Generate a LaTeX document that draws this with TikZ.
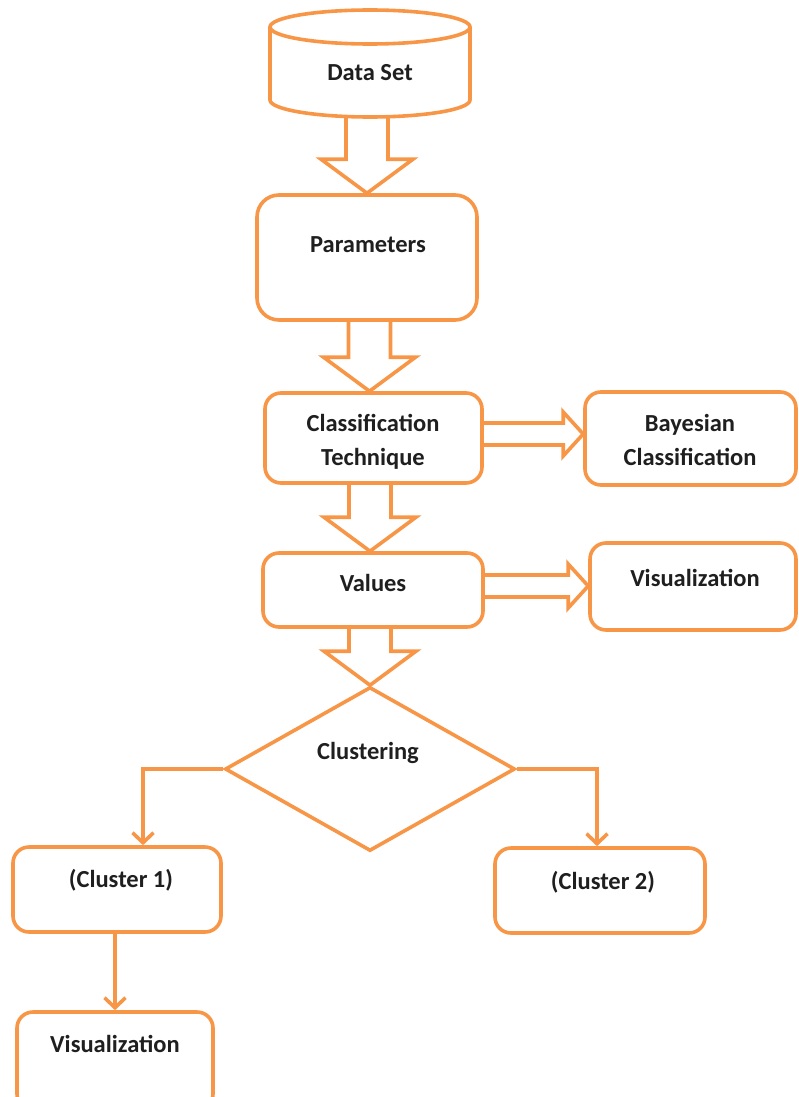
\documentclass[tikz,border=0pt]{standalone}
\usepackage{fontspec}
\setmainfont{Carlito}
\usetikzlibrary{calc,arrows.meta,shapes.geometric}
\definecolor{accent}{HTML}{F79646}

% hollow block arrow pointing down: shaft from #1 to the tip at #2
\newcommand\hollowdown[2]{%
  \draw[hollow] let \p1=(#1), \p2=(#2) in
    (\x2-21pt,\y1) -- (\x2-21pt,\y2+34pt) -- (\x2-46pt,\y2+34pt) -- (\x2,\y2)
    -- (\x2+46pt,\y2+34pt) -- (\x2+21pt,\y2+34pt) -- (\x2+21pt,\y1);}
% hollow block arrow pointing right: shaft from #1 to the tip at #2
\newcommand\hollowright[2]{%
  \draw[hollow] let \p1=(#1), \p2=(#2) in
    (\x1,\y1+15pt) -- (\x2-20pt,\y1+15pt) -- (\x2-20pt,\y1+26pt) -- (\x2,\y1+4pt)
    -- (\x2-20pt,\y1-18pt) -- (\x2-20pt,\y1-7pt) -- (\x1,\y1-7pt);}

\begin{document}
\begin{tikzpicture}[x=1pt,y=1pt,
  box/.style={draw=accent, line width=3.6pt, rounded corners=16pt, fill=white, inner sep=0pt},
  lbl/.style={font=\fontsize{24.5}{34}\selectfont\bfseries, align=center, text=black!88, inner sep=0pt},
  hollow/.style={draw=accent, line width=3.6pt, line join=miter},
  link/.style={draw=accent, line width=3.6pt,
    -{Straight Barb[length=10pt,width=21pt,line width=3.6pt]}}]
\useasboundingbox (0,0) rectangle (798,-1097);
\clip (0,0) rectangle (798,-1097);

% database cylinder
\draw[hollow] (270,-27) -- (270,-100)
  arc[start angle=180,end angle=360,x radius=100,y radius=17] -- (470,-27);
\draw[hollow] (370,-27) ellipse[x radius=100,y radius=17];
\coordinate (dsb) at (370,-117);
\node[lbl] (ds) at (370,-73) {Data Set};

% process boxes
\node[box, rounded corners=22pt, minimum width=220, minimum height=125] (par) at (367,-257.5) {};
\node[box, minimum width=217, minimum height=90] (cls) at (373.5,-438) {};
\node[box, minimum width=211, minimum height=93] (bay) at (690.5,-438.5) {};
\node[box, minimum width=220, minimum height=74] (val) at (373,-590) {};
\node[box, minimum width=206, minimum height=87] (vis) at (693,-586.5) {};
\node[draw=accent, line width=3.6pt, diamond, minimum width=290, minimum height=164, inner sep=0pt] (clu) at (370,-769) {};
\node[box, minimum width=208, minimum height=85] (ca) at (117,-889.5) {};
\node[box, minimum width=210, minimum height=85] (cb) at (600,-890.5) {};
\node[box, minimum width=196, minimum height=98] (visb) at (115,-1061) {};

% labels
\node[lbl] (tpar) at (368,-245) {Parameters};
\node[lbl] (tcls) at (373,-442) {Classification\\Technique};
\node[lbl] (tbay) at (690,-440) {Bayesian\\Classification};
\node[lbl] (tval) at (373,-583) {Values};
\node[lbl] (tvis) at (695,-578) {Visualization};
\node[lbl] (tclu) at (368,-753) {Clustering};
\node[lbl] (tca) at (121,-880) {(Cluster 1)};
\node[lbl] (tcb) at (603,-882) {(Cluster 2)};
\node[lbl] (tvisb) at (115,-1044) {Visualization};

% block arrows
\hollowdown{dsb}{par.north}
\hollowdown{par.south}{$(cls.north)+(-4,0)$}
\hollowdown{cls.south}{$(val.north)+(-3,0)$}
\hollowdown{val.south}{clu.north}
\hollowright{cls.east}{bay.west}
\hollowright{val.east}{vis.west}

% elbow connectors
\draw[link] (clu.west) -| ($(ca.north)+(26,0)$);
\draw[link] (clu.east) -| ($(cb.north)+(-3,0)$);
\draw[link] (ca.south -| visb.north) -- (visb.north);
\end{tikzpicture}
\end{document}
